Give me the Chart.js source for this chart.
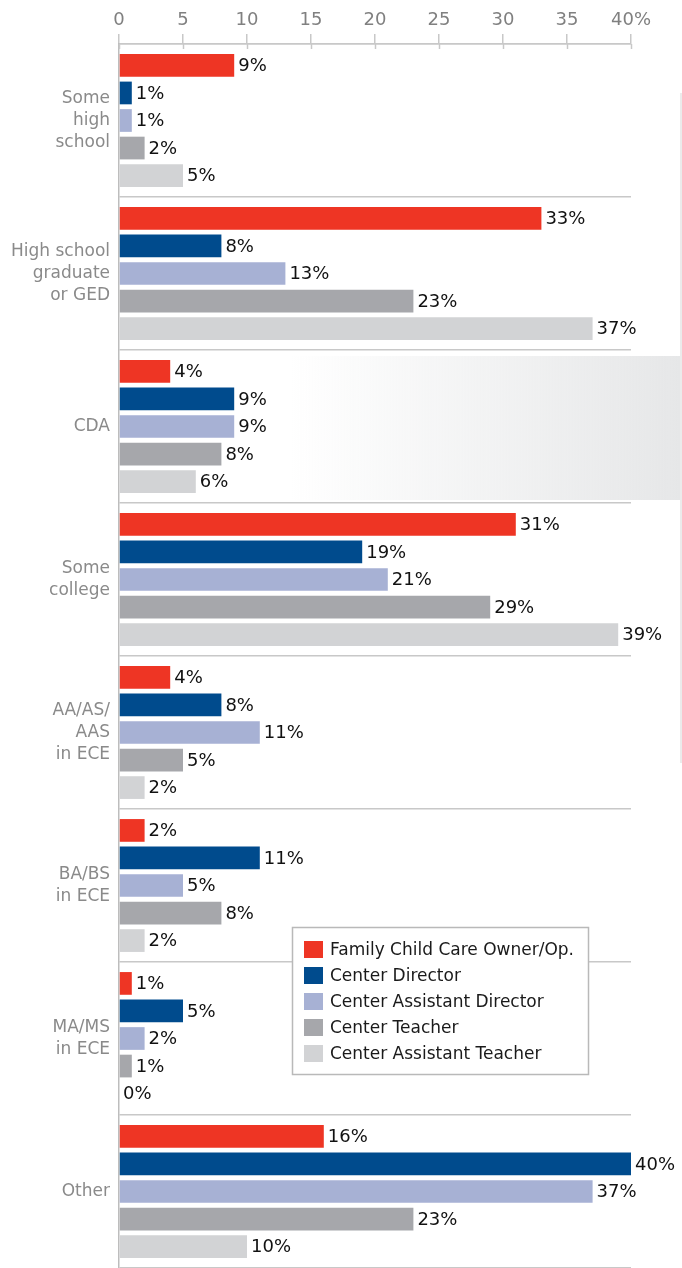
<!DOCTYPE html>
<html>
<head>
<meta charset="utf-8">
<script src="https://cdn.jsdelivr.net/npm/chart.js@4"></script>
<style>
  html, body { margin: 0; padding: 0; background: #fff; }
  #wrap { position: relative; width: 682px; height: 1268px; }
  canvas { display: block; }
</style>
</head>
<body>
<div id="wrap"><canvas id="c" width="682" height="1268"></canvas></div>
<script>
// ---- data ----
const categories = [
  ['Some', 'high', 'school'],
  ['High school', 'graduate', 'or GED'],
  'CDA',
  ['Some', 'college'],
  ['AA/AS/', 'AAS', 'in ECE'],
  ['BA/BS', 'in ECE'],
  ['MA/MS', 'in ECE'],
  'Other'
];
const seriesNames = [
  'Family Child Care Owner/Op.',
  'Center Director',
  'Center Assistant Director',
  'Center Teacher',
  'Center Assistant Teacher'
];
const familyChildCare   = [9, 33, 4, 31, 4, 2, 1, 16];
const centerDirector    = [1, 8, 9, 19, 8, 11, 5, 40];
const centerAsstDir     = [1, 13, 9, 21, 11, 5, 2, 37];
const centerTeacher     = [2, 23, 8, 29, 5, 8, 1, 23];
const centerAsstTeacher = [5, 37, 6, 39, 2, 2, 0, 10];
const xTicks = [0, 5, 10, 15, 20, 25, 30, 35, 40];

const colors = ['#ee3524', '#004b8d', '#a7b1d4', '#a6a7ab', '#d2d3d5'];
const seriesValues = [familyChildCare, centerDirector, centerAsstDir, centerTeacher, centerAsstTeacher];

const FONT = '"DejaVu Sans", sans-serif';

const decorPlugin = {
  id: 'decor',
  beforeDatasetsDraw(chart) {
    const ctx = chart.ctx;
    const y = chart.scales.y;
    // light gradient panel behind the CDA group
    const half = (y.getPixelForValue(1) - y.getPixelForValue(0)) / 2;
    const yc = y.getPixelForValue(2);
    const top = yc - half + 6, bot = yc + half - 3;
    ctx.save();
    const g = ctx.createLinearGradient(290, 0, 680, 0);
    g.addColorStop(0, 'rgba(230,231,232,0)');
    g.addColorStop(1, 'rgba(230,231,232,1)');
    ctx.fillStyle = g;
    ctx.fillRect(290, top, 390, bot - top);
    ctx.strokeStyle = '#e4e4e4';
    ctx.lineWidth = 1.5;
    ctx.beginPath();
    ctx.moveTo(681, 93);
    ctx.lineTo(681, 763);
    ctx.stroke();
    ctx.restore();
  },
  afterDatasetsDraw(chart) {
    const ctx = chart.ctx;
    ctx.save();
    ctx.font = '18px ' + FONT;
    ctx.fillStyle = '#111';
    ctx.textBaseline = 'middle';
    ctx.textAlign = 'left';
    chart.data.datasets.forEach((ds, i) => {
      const meta = chart.getDatasetMeta(i);
      meta.data.forEach((el, j) => {
        ctx.fillText(ds.data[j] + '%', el.x + 4, el.y + 1);
      });
    });
    // small tick marks below the top axis line
    const x = chart.scales.x;
    ctx.strokeStyle = '#c8c8c8';
    ctx.lineWidth = 1.5;
    xTicks.forEach(v => {
      const px = Math.round(x.getPixelForValue(v)) + 0.5;
      ctx.beginPath();
      ctx.moveTo(px, x.bottom);
      ctx.lineTo(px, x.bottom + 5);
      ctx.stroke();
    });
    ctx.restore();
  },
  afterDraw(chart) {
    const ctx = chart.ctx;
    ctx.save();
    const bx = 292.5, by = 927.5, bw = 296, bh = 147;
    ctx.fillStyle = '#fff';
    ctx.fillRect(bx, by, bw, bh);
    ctx.strokeStyle = '#b9b9b9';
    ctx.lineWidth = 1.5;
    ctx.strokeRect(bx, by, bw, bh);
    ctx.font = '17px ' + FONT;
    ctx.textBaseline = 'middle';
    ctx.textAlign = 'left';
    chart.data.datasets.forEach((ds, i) => {
      const cy = 949.5 + i * 26;
      ctx.fillStyle = ds.backgroundColor;
      ctx.fillRect(304, cy - 8.5, 19, 17);
      ctx.fillStyle = '#1a1a1a';
      ctx.fillText(ds.label, 330, cy + 1);
    });
    ctx.restore();
  }
};

new Chart(document.getElementById('c'), {
  type: 'bar',
  data: {
    labels: categories,
    datasets: seriesNames.map((name, i) => ({
      label: name,
      data: seriesValues[i],
      backgroundColor: colors[i],
      borderWidth: 0,
      categoryPercentage: 0.9,
      barPercentage: 0.825
    }))
  },
  options: {
    indexAxis: 'y',
    responsive: false,
    animation: false,
    devicePixelRatio: 1,
    layout: { padding: { left: 0, right: 51, top: 0, bottom: 0 } },
    plugins: {
      legend: { display: false },
      tooltip: { enabled: false }
    },
    scales: {
      x: {
        position: 'top',
        min: 0,
        max: 40,
        afterBuildTicks(scale) { scale.ticks = xTicks.map(v => ({ value: v })); },
        afterFit(scale) { scale.height = 44; },
        ticks: {
          color: '#808080',
          font: { family: FONT, size: 18 },
          padding: 3,
          callback: v => (v === 40 ? '40%' : String(v))
        },
        grid: {
          drawOnChartArea: false,
          drawTicks: true,
          tickLength: 10,
          color: '#c8c8c8',
          lineWidth: 1.5
        },
        border: { display: true, color: '#c8c8c8', width: 1.5 }
      },
      y: {
        afterFit(scale) {
          scale.width = 119;
          scale.paddingTop = 0;
          scale.paddingBottom = 0;
        },
        ticks: {
          color: '#8a8a8a',
          font: { family: FONT, size: 17, lineHeight: 1.3 },
          padding: 9
        },
        grid: {
          offset: true,
          drawTicks: false,
          color: '#c8c8c8',
          lineWidth: 1.5
        },
        border: { display: true, color: '#bdbdbd', width: 1.5 }
      }
    }
  },
  plugins: [decorPlugin]
});
</script>
</body>
</html>
